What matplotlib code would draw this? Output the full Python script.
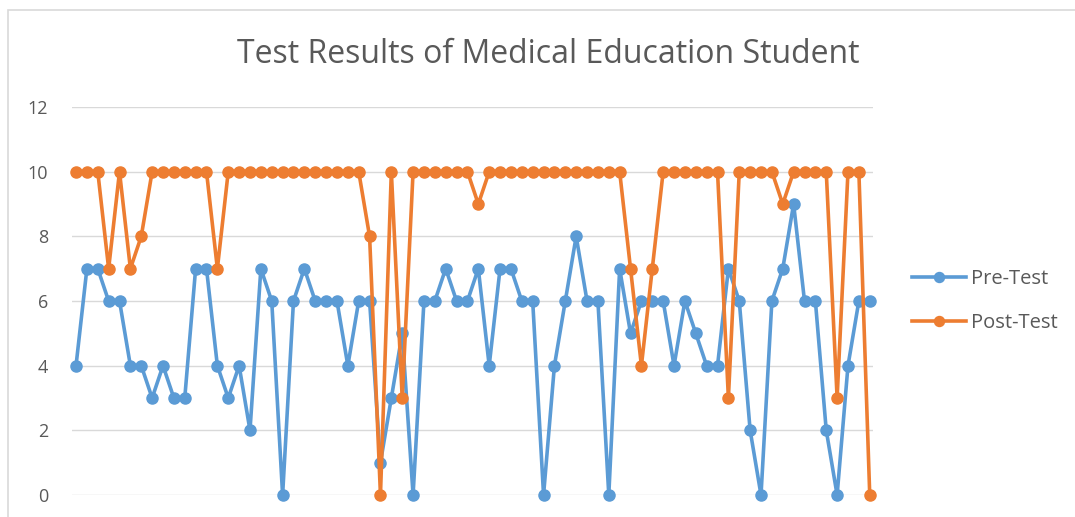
import matplotlib
matplotlib.use('Agg')
from matplotlib import pyplot as plt
from matplotlib.patches import Rectangle

# scores, one per student
pre_test = [4, 7, 7, 6, 6, 4, 4, 3, 4, 3,
            3, 7, 7, 4, 3, 4, 2, 7, 6, 0,
            6, 7, 6, 6, 6, 4, 6, 6, 1, 3,
            5, 0, 6, 6, 7, 6, 6, 7, 4, 7,
            7, 6, 6, 0, 4, 6, 8, 6, 6, 0,
            7, 5, 6, 6, 6, 4, 6, 5, 4, 4,
            7, 6, 2, 0, 6, 7, 9, 6, 6, 2,
            0, 4, 6, 6]
post_test = [10, 10, 10, 7, 10, 7, 8, 10, 10, 10,
             10, 10, 10, 7, 10, 10, 10, 10, 10, 10,
             10, 10, 10, 10, 10, 10, 10, 8, 0, 10,
             3, 10, 10, 10, 10, 10, 10, 9, 10, 10,
             10, 10, 10, 10, 10, 10, 10, 10, 10, 10,
             10, 7, 4, 7, 10, 10, 10, 10, 10, 10,
             3, 10, 10, 10, 10, 9, 10, 10, 10, 10,
             3, 10, 10, 0]
y_ticks = [0, 2, 4, 6, 8, 10, 12]

plt.rcParams['font.family'] = ['Open Sans', 'DejaVu Sans']

W, H = 1075, 517
fig = plt.figure(figsize=(W / 100, H / 100), dpi=100)

# light frame of the chart area
fig.patches.append(Rectangle((8 / W, -0.1), 1.2, (H - 10) / H + 0.1, transform=fig.transFigure,
                             fill=False, edgecolor='#D9D9D9', linewidth=1.2))

ax = fig.add_axes([72 / W, (H - 495) / H, (873 - 72) / W, (495 - 107) / H])
x = list(range(len(pre_test)))

ax.plot(x, pre_test, color='#5B9BD5', lw=2.6, marker='o', markersize=8, label='Pre-Test',
        clip_on=False, zorder=3)
ax.plot(x, post_test, color='#ED7D31', lw=2.6, marker='o', markersize=8, label='Post-Test',
        clip_on=False, zorder=3)

ax.set_xlim(-0.37, len(pre_test) - 1 + 0.3)
ax.set_ylim(0, 12)
ax.set_yticks(y_ticks)
ax.set_xticks([])
ax.grid(axis='y', color='#D9D9D9', linewidth=1)
ax.set_axisbelow(True)
for s in ax.spines.values():
    s.set_visible(False)
ax.tick_params(axis='y', length=0, pad=17, labelsize=13, labelcolor='#595959')

fig.text(548 / W, 1 - 63 / H, 'Test Results of Medical Education Student', ha='center', va='baseline',
         fontsize=23, color='#595959')

leg = ax.legend(loc='center left', bbox_to_anchor=(912 / W, 1 - 301 / H), bbox_transform=fig.transFigure,
                frameon=False, fontsize=14.5, labelcolor='#595959', handlelength=2.7, labelspacing=1.2,
                handletextpad=0.25, borderpad=0, borderaxespad=0, markerscale=0.9)

fig.savefig('out.png', dpi=100)
